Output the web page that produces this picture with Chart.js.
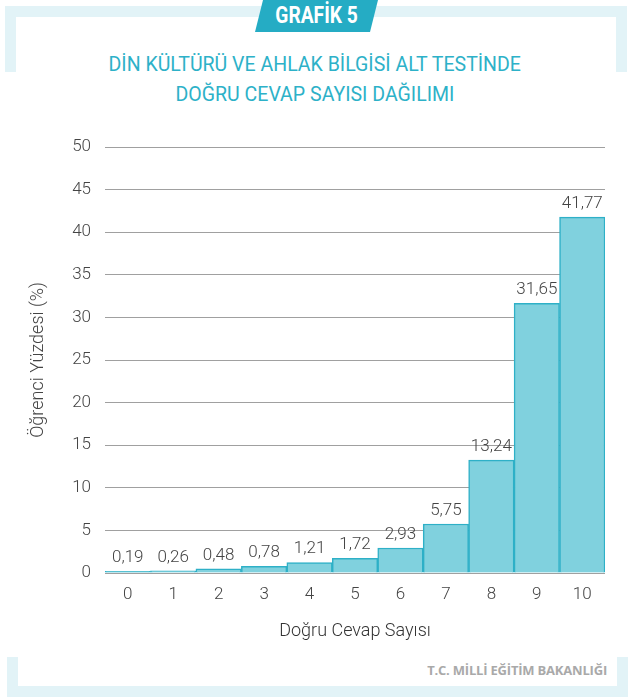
<!DOCTYPE html>
<html lang="tr">
<head>
<meta charset="UTF-8">
<title>Grafik 5</title>
<script src="https://cdn.jsdelivr.net/npm/chart.js"></script>
<style>
  body { margin: 0; background: #fff; }
  #page { position: relative; width: 629px; height: 699px; overflow: hidden; font-family: Roboto, sans-serif; }
  .frame { position: absolute; background: #e2f3f7; }
  #badge {
    position: absolute; left: 255px; top: 0; width: 123px; height: 32px;
    background: #25acc4;
    clip-path: polygon(8px 0, 100% 0, calc(100% - 8px) 100%, 0 100%);
    color: #fff; text-align: center;
  }
  #badge span { display: inline-block; font: bold 24px Roboto, sans-serif; line-height: 31px; transform: scaleX(0.8); }
  #title { position: absolute; left: 0; top: 49px; width: 629px; text-align: center; color: #2db1c8; }
  #title span { display: inline-block; font: 400 21px Roboto, sans-serif; line-height: 30px; transform: scaleX(0.93); white-space: nowrap; }
  #footer { position: absolute; right: 22px; top: 661px; color: #a9a9a9; font: bold 13px "Open Sans", sans-serif; letter-spacing: -0.2px; }
  #chartBox { position: absolute; left: 0; top: 0; width: 629px; height: 699px; }
</style>
</head>
<body>
<div id="page">
  <!-- top bracket -->
  <div class="frame" style="left:5px; top:6px; width:622px; height:11px;"></div>
  <div class="frame" style="left:5px; top:6px; width:11px; height:66px;"></div>
  <div class="frame" style="left:616px; top:6px; width:11px; height:66px;"></div>
  <!-- bottom bracket -->
  <div class="frame" style="left:7px; top:686px; width:621px; height:11px;"></div>
  <div class="frame" style="left:7px; top:657px; width:11px; height:40px;"></div>
  <div class="frame" style="left:617px; top:657px; width:11px; height:40px;"></div>

  <div id="badge"><span>GRAFİK 5</span></div>
  <div id="title">
    <span>DİN KÜLTÜRÜ VE AHLAK BİLGİSİ ALT TESTİNDE</span><br>
    <span>DOĞRU CEVAP SAYISI DAĞILIMI</span>
  </div>
  <div id="footer">T.C. MİLLİ EĞİTİM BAKANLIĞI</div>

  <div id="chartBox"><canvas id="chart" width="629" height="699"></canvas></div>
</div>

<script>
  // data
  const categories = ['0', '1', '2', '3', '4', '5', '6', '7', '8', '9', '10'];
  const percentages = [0.19, 0.26, 0.48, 0.78, 1.21, 1.72, 2.93, 5.75, 13.24, 31.65, 41.77];
  const yTicks = [0, 5, 10, 15, 20, 25, 30, 35, 40, 45, 50];

  const labelFont = { family: 'Roboto', size: 17, weight: '300' };

  // draw the value over each bar
  const valueLabels = {
    id: 'valueLabels',
    afterDatasetsDraw(chart) {
      const ctx = chart.ctx;
      const meta = chart.getDatasetMeta(0);
      ctx.save();
      ctx.font = '300 17px Roboto';
      ctx.fillStyle = '#444';
      ctx.textAlign = 'center';
      ctx.textBaseline = 'bottom';
      meta.data.forEach(function(bar, i) {
        const txt = percentages[i].toFixed(2).replace('.', ',');
        ctx.fillText(txt, bar.x, bar.y - 5);
      });
      ctx.restore();
    }
  };

  new Chart(document.getElementById('chart'), {
    type: 'bar',
    data: {
      labels: categories,
      datasets: [{
        data: percentages,
        backgroundColor: '#80d1de',
        borderColor: '#2eb0c7',
        borderWidth: 1.5,
        barPercentage: 1,
        categoryPercentage: 1
      }]
    },
    options: {
      responsive: false,
      animation: false,
      layout: { padding: { left: 0, right: 24, top: 147, bottom: 57 } },
      plugins: { legend: { display: false }, tooltip: { enabled: false } },
      scales: {
        x: {
          grid: { display: false, drawTicks: false },
          border: { display: false },
          ticks: { color: '#444', font: labelFont, padding: 12 },
          title: { display: true, text: 'Doğru Cevap Sayısı', color: '#333', font: { family: 'Roboto', size: 18, weight: '300' }, padding: { top: 10, bottom: 0 } },
          afterFit(scale) { scale.height = 69; }
        },
        y: {
          min: 0, max: 50,
          afterBuildTicks(scale) { scale.ticks = yTicks.map(v => ({ value: v })); },
          grid: { color: '#a0a0a0', lineWidth: 1, drawTicks: false },
          border: { display: false },
          ticks: { color: '#444', font: labelFont, padding: 14 },
          title: { display: true, text: 'Öğrenci Yüzdesi (%)', color: '#444', font: { family: 'Roboto', size: 18, weight: '300' }, padding: { top: 28, bottom: 0 } },
          afterFit(scale) { scale.width = 105; }
        }
      }
    },
    plugins: [valueLabels]
  });
</script>
</body>
</html>
